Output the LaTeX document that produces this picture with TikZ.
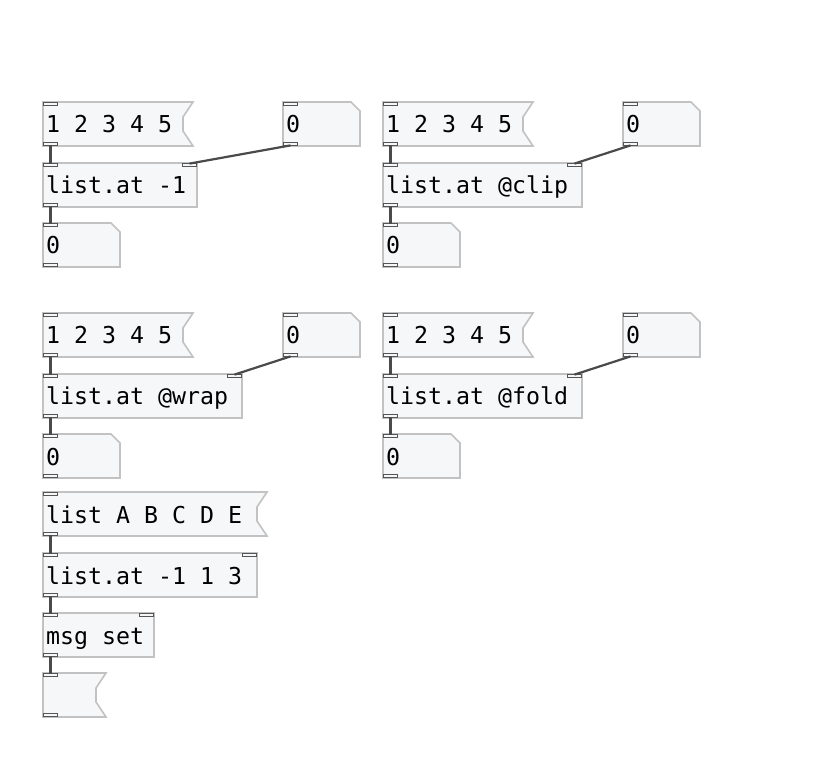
\documentclass[tikz,border=0pt]{standalone}
\usepackage{fontspec}
\newfontfamily\pdfont{DejaVu Sans Mono}
\definecolor{boxc}{HTML}{F6F7F9}
\definecolor{bordc}{HTML}{C2C2C2}
\definecolor{portc}{HTML}{555555}
\definecolor{wirec}{HTML}{4A4A4A}
\tikzset{
 box/.style={draw=bordc, fill=boxc, line width=1.6pt, line join=miter},
 port/.style={draw=portc, fill=boxc, line width=1.7pt, minimum width=13.8pt, minimum height=2.8pt, inner sep=0pt, outer sep=0pt},
 wire/.style={draw=wirec, line width=2.2pt},
 lbl/.style={font=\pdfont\fontsize{23.25}{28}\selectfont, anchor=base west, inner sep=0pt, text=black}
}
% message box: name x y w text
\newcommand\pdmsg[5]{%
 \draw[box] (#2,#3) -- (#2+#4,#3) -- (#2+#4-10,#3+15) -- (#2+#4-10,#3+29) -- (#2+#4,#3+44) -- (#2,#3+44) -- cycle;
 \node[lbl] (#1) at (#2+3,#3+31) {#5};
 \node[port] (#1i) at (#2+7.5,#3+2) {};
 \node[port] (#1o) at (#2+7.5,#3+42) {};
}
% number box: name x y text
\newcommand\pdnum[4]{%
 \draw[box] (#2,#3) -- (#2+68,#3) -- (#2+77,#3+9) -- (#2+77,#3+44) -- (#2,#3+44) -- cycle;
 \node[lbl] (#1) at (#2+3,#3+31) {#4};
 \node[port] (#1i) at (#2+7.5,#3+2) {};
 \node[port] (#1o) at (#2+7.5,#3+42) {};
}
% object box: name x y w text
\newcommand\pdobj[5]{%
 \draw[box] (#2,#3) rectangle (#2+#4,#3+44);
 \node[lbl] (#1) at (#2+3,#3+31) {#5};
 \node[port] (#1i) at (#2+7.5,#3+2) {};
 \node[port] (#1r) at (#2+#4-7.5,#3+2) {};
 \node[port] (#1o) at (#2+7.5,#3+42) {};
}
\begin{document}
\begin{tikzpicture}[x=1pt,y=-1pt]
\fill[white] (0,0) rectangle (823,778);
\useasboundingbox (0,0) rectangle (823,778);
% group A
\pdmsg{mA}{43}{102}{150}{1 2 3 4 5}
\pdnum{nA}{283}{102}{0}
\pdobj{oA}{43}{163}{154}{list.at -1}
\pdnum{rA}{43}{223}{0}
% group B
\pdmsg{mB}{383}{102}{150}{1 2 3 4 5}
\pdnum{nB}{623}{102}{0}
\pdobj{oB}{383}{163}{199}{list.at @clip}
\pdnum{rB}{383}{223}{0}
% group C
\pdmsg{mC}{43}{313}{150}{1 2 3 4 5}
\pdnum{nC}{283}{313}{0}
\pdobj{oC}{43}{374}{199}{list.at @wrap}
\pdnum{rC}{43}{434}{0}
% group D
\pdmsg{mD}{383}{313}{150}{1 2 3 4 5}
\pdnum{nD}{623}{313}{0}
\pdobj{oD}{383}{374}{199}{list.at @fold}
\pdnum{rD}{383}{434}{0}
% group E
\pdmsg{mE}{43}{492}{224}{list A B C D E}
\pdobj{oE}{43}{553}{214}{list.at -1 1 3}
\pdobj{sE}{43}{613}{111}{msg set}
\pdmsg{eE}{43}{673}{63}{}
% wires
\foreach \g in {A,B,C,D}{
 \draw[wire] (m\g o.south) -- (o\g i.north);
 \draw[wire] (n\g o.south) -- (o\g r.north);
 \draw[wire] (o\g o.south) -- (r\g i.north);
}
\draw[wire] (mEo.south) -- (oEi.north);
\draw[wire] (oEo.south) -- (sEi.north);
\draw[wire] (sEo.south) -- (eEi.north);
\end{tikzpicture}
\end{document}
